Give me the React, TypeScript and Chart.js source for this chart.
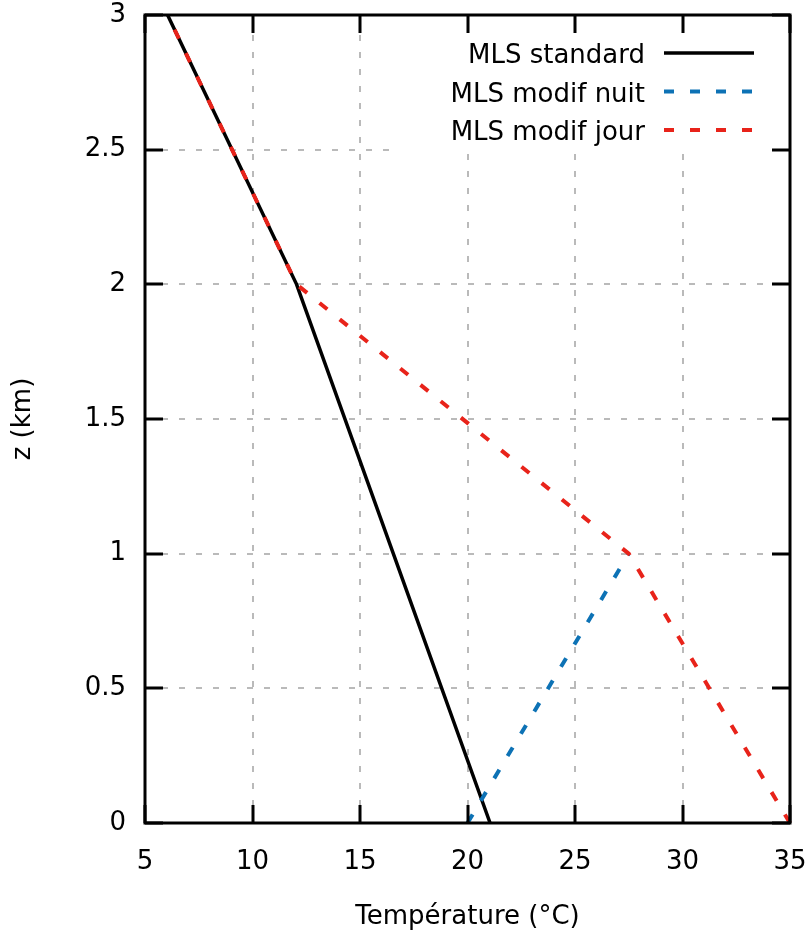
import React, { useEffect, useRef } from 'react';
import { Chart, registerables } from 'chart.js';

Chart.register(...registerables);

// ---- data ----
const depthKm = [0, 1, 2, 3];
const standardTemp = [21.05, 16.55, 12.05, 6.05];
const nightDepthKm = [0, 1];
const nightTemp = [20.0, 27.5];
const dayTemp = [35.0, 27.5, 12.05, 6.05];
const xTicks = [5, 10, 15, 20, 25, 30, 35];
const yTicks = [0, 0.5, 1, 1.5, 2, 2.5, 3];
const seriesLabels = ['MLS standard', 'MLS modif nuit', 'MLS modif jour'];
const seriesColors = ['#000000', '#0d72b5', '#e8231a'];
const xTitle = 'Température (°C)';
const yTitle = 'z (km)';

const FAMILY = '"DejaVu Sans", Verdana, sans-serif';
const FSIZE = 26;

const gnuplotFrame = {
  id: 'gnuplotFrame',
  beforeDatasetsDraw(chart: any) {
    const { ctx, chartArea: a, scales } = chart;
    const x = scales.x;
    const y = scales.y;
    ctx.save();
    ctx.strokeStyle = '#a4a4a4';
    ctx.lineWidth = 1.5;
    ctx.setLineDash([6, 11]);
    xTicks.forEach((v) => {
      if (v === x.min || v === x.max) return;
      const px = Math.round(x.getPixelForValue(v));
      ctx.beginPath();
      ctx.moveTo(px, a.bottom);
      ctx.lineTo(px, a.top);
      ctx.stroke();
    });
    yTicks.forEach((v) => {
      if (v === y.min || v === y.max) return;
      const py = Math.round(y.getPixelForValue(v));
      ctx.beginPath();
      ctx.moveTo(a.left, py);
      ctx.lineTo(a.right, py);
      ctx.stroke();
    });
    ctx.setLineDash([]);
    // opaque key box
    ctx.fillStyle = '#ffffff';
    ctx.fillRect(a.right - 400, a.top, 400, 137);
    ctx.restore();
  },
  afterDatasetsDraw(chart: any) {
    const { ctx, chartArea: a, scales } = chart;
    const x = scales.x;
    const y = scales.y;
    ctx.save();
    ctx.strokeStyle = '#000';
    ctx.lineWidth = 3;
    ctx.setLineDash([]);
    const tl = 18;
    xTicks.forEach((v) => {
      const px = Math.round(x.getPixelForValue(v));
      ctx.beginPath();
      ctx.moveTo(px, a.bottom);
      ctx.lineTo(px, a.bottom - tl);
      ctx.moveTo(px, a.top);
      ctx.lineTo(px, a.top + tl);
      ctx.stroke();
    });
    yTicks.forEach((v) => {
      const py = Math.round(y.getPixelForValue(v));
      ctx.beginPath();
      ctx.moveTo(a.left, py);
      ctx.lineTo(a.left + tl, py);
      ctx.moveTo(a.right, py);
      ctx.lineTo(a.right - tl, py);
      ctx.stroke();
    });
    ctx.strokeRect(a.left, a.top, a.right - a.left, a.bottom - a.top);

    // key
    ctx.font = `${FSIZE}px ${FAMILY}`;
    ctx.fillStyle = '#000';
    ctx.textAlign = 'right';
    ctx.textBaseline = 'alphabetic';
    const textRight = a.right - 145;
    const lineL = a.right - 126;
    const lineR = a.right - 36;
    const baseTop = a.top + 48;
    const step = 38.5;
    seriesLabels.forEach((lab, i) => {
      const by = baseTop + i * step;
      ctx.fillText(lab, textRight, by);
      ctx.beginPath();
      ctx.strokeStyle = seriesColors[i];
      ctx.lineWidth = i === 0 ? 3.5 : 4;
      ctx.setLineDash(i === 0 ? [] : [10, 16]);
      ctx.moveTo(lineL, by - 10);
      ctx.lineTo(lineR, by - 10);
      ctx.stroke();
    });
    ctx.restore();
  },
};

export default function App() {
  const ref = useRef<HTMLCanvasElement | null>(null);
  useEffect(() => {
    if (!ref.current) return;
    const font = { family: FAMILY, size: FSIZE };
    const chart = new Chart(ref.current, {
      type: 'scatter',
      data: {
        datasets: [
          {
            label: seriesLabels[0],
            data: depthKm.map((z, i) => ({ x: standardTemp[i], y: z })),
            showLine: true,
            borderColor: seriesColors[0],
            borderWidth: 3.5,
            pointRadius: 0,
            order: 3,
            clip: 4,
          },
          {
            label: seriesLabels[1],
            data: nightDepthKm.map((z, i) => ({ x: nightTemp[i], y: z })),
            showLine: true,
            borderColor: seriesColors[1],
            borderWidth: 4,
            borderDash: [10, 16],
            pointRadius: 0,
            order: 2,
            clip: 4,
          },
          {
            label: seriesLabels[2],
            data: depthKm.map((z, i) => ({ x: dayTemp[i], y: z })),
            showLine: true,
            borderColor: seriesColors[2],
            borderWidth: 4,
            borderDash: [10, 16],
            pointRadius: 0,
            order: 1,
            clip: 4,
          },
        ],
      },
      options: {
        responsive: false,
        animation: false,
        layout: { padding: { top: 15, right: 19, left: 0, bottom: 0 } },
        plugins: { legend: { display: false }, tooltip: { enabled: false } },
        scales: {
          x: {
            type: 'linear',
            min: 5,
            max: 35,
            afterBuildTicks: (s: any) => {
              s.ticks = xTicks.map((v) => ({ value: v }));
            },
            grid: { display: false, drawTicks: false },
            border: { display: false },
            ticks: { font, color: '#000', padding: 24, maxRotation: 0, autoSkip: false, callback: (v: any) => String(v) },
            title: { display: true, text: xTitle, font, color: '#000', padding: { top: 0, bottom: 3 } },
            afterFit: (s: any) => {
              s.height = 113;
              s.paddingLeft = 0;
              s.paddingRight = 0;
            },
          },
          y: {
            type: 'linear',
            min: 0,
            max: 3,
            afterBuildTicks: (s: any) => {
              s.ticks = yTicks.map((v) => ({ value: v }));
            },
            grid: { display: false, drawTicks: false },
            border: { display: false },
            ticks: { font, color: '#000', padding: 19, autoSkip: false, callback: (v: any) => String(v) },
            title: { display: true, text: yTitle, font, color: '#000', padding: { top: 8, bottom: 0 } },
            afterFit: (s: any) => {
              s.width = 145;
              s.paddingTop = 0;
              s.paddingBottom = 0;
            },
          },
        },
      },
      plugins: [gnuplotFrame],
    } as any);
    return () => chart.destroy();
  }, []);
  return (
    <div style={{ position: 'absolute', left: 0, top: 0, width: 809, height: 936, background: '#fff' }}>
      <canvas ref={ref} width={809} height={936} style={{ display: 'block', width: 809, height: 936 }} />
    </div>
  );
}
